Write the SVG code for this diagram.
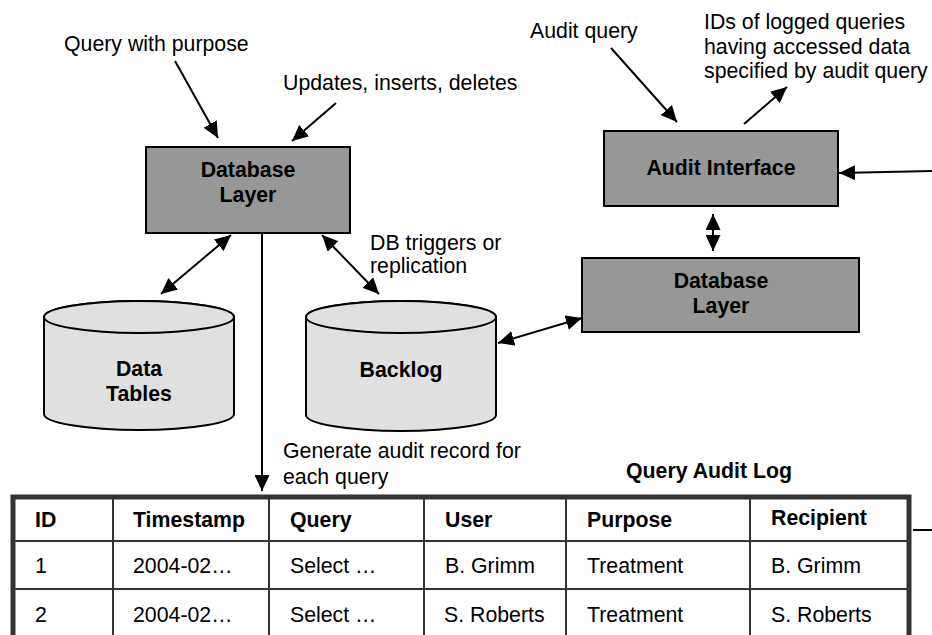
<svg xmlns="http://www.w3.org/2000/svg" width="932" height="635" viewBox="0 0 932 635">
  <style>
    text { font-family: "Liberation Sans", Arial, sans-serif; font-size: 21.3px; fill: #000; }
    .b { font-weight: bold; }
    .c { text-anchor: middle; }
    .box { fill: #979797; stroke: #000; stroke-width: 2; }
    .cyl { fill: #e0e0e0; stroke: #000; stroke-width: 2; }
    .conn { fill: none; stroke: #000; stroke-width: 2; }
    .arr { marker-end: url(#head); }
    .dbl { marker-start: url(#head); marker-end: url(#head); }
    .grid { stroke: #333; stroke-width: 2; fill: none; }
    .frame { stroke: #333; stroke-width: 5; fill: #fff; }
  </style>
  <defs>
    <marker id="head" markerUnits="userSpaceOnUse" markerWidth="16" markerHeight="15" refX="16" refY="7.5" orient="auto-start-reverse">
      <path d="M0,0 L16,7.5 L0,15 Z" fill="#000"/>
    </marker>
  </defs>

  <rect x="0" y="0" width="932" height="635" fill="#fff"/>

  <!-- free-standing labels -->
  <g id="labels">
    <text x="64" y="51">Query with purpose</text>
    <text x="283" y="90">Updates, inserts, deletes</text>
    <text x="530" y="38">Audit query</text>
    <text x="704" y="29">IDs of logged queries</text>
    <text x="704" y="54">having accessed data</text>
    <text x="704" y="78">specified by audit query</text>
    <text x="370" y="250">DB triggers or</text>
    <text x="370" y="273">replication</text>
    <text x="283" y="458">Generate audit record for</text>
    <text x="283" y="484">each query</text>
  </g>

  <!-- connectors -->
  <g id="connectors">
    <path class="conn arr" d="M175,61 L218,138"/>
    <path class="conn arr" d="M336,103 L292,141"/>
    <path class="conn arr" d="M611,48 L677,122"/>
    <path class="conn arr" d="M744,124 L787,87"/>
    <path class="conn arr" d="M932,171 L839,173"/>
    <path class="conn dbl" d="M713,214 L713,251"/>
    <path class="conn dbl" d="M498,343 L582,318"/>
    <path class="conn dbl" d="M161,294 L231,235"/>
    <path class="conn dbl" d="M322,235 L379,294"/>
    <path class="conn arr" d="M262,233 L262,491"/>
    <path class="conn" d="M913,530 L932,530"/>
  </g>

  <!-- database layer (left) -->
  <g id="db-layer-1">
    <rect class="box" x="146" y="147" width="204" height="86"/>
    <text class="b c" x="248" y="177">Database</text>
    <text class="b c" x="248" y="202">Layer</text>
  </g>

  <!-- audit interface -->
  <g id="audit-interface">
    <rect class="box" x="604" y="131" width="234" height="75"/>
    <text class="b c" x="721" y="175">Audit Interface</text>
  </g>

  <!-- database layer (right) -->
  <g id="db-layer-2">
    <rect class="box" x="582" y="258" width="277" height="74"/>
    <text class="b c" x="721" y="288">Database</text>
    <text class="b c" x="721" y="313">Layer</text>
  </g>

  <!-- data tables store -->
  <g id="data-tables">
    <path class="cyl" d="M44,317 A95,16 0 0 1 234,317 L234,414 A95,16 0 0 1 44,414 Z"/>
    <ellipse class="cyl" cx="139" cy="317" rx="95" ry="16"/>
    <text class="b c" x="139" y="376">Data</text>
    <text class="b c" x="139" y="401">Tables</text>
  </g>

  <!-- backlog store -->
  <g id="backlog">
    <path class="cyl" d="M306,317 A95,16 0 0 1 496,317 L496,415 A95,16 0 0 1 306,415 Z"/>
    <ellipse class="cyl" cx="401" cy="317" rx="95" ry="16"/>
    <text class="b c" x="401" y="377">Backlog</text>
  </g>

  <!-- query audit log table -->
  <g id="audit-log">
    <text class="b c" x="709" y="478">Query Audit Log</text>
    <rect class="frame" x="13" y="497" width="896" height="200"/>
    <path class="grid" d="M113,499 V635 M269,499 V635 M424,499 V635 M566,499 V635 M750,499 V635 M15,541 H907 M15,589 H907"/>
    <text class="b" x="35" y="527">ID</text>
    <text class="b" x="133" y="527">Timestamp</text>
    <text class="b" x="290" y="527">Query</text>
    <text class="b" x="445" y="527">User</text>
    <text class="b" x="587" y="527">Purpose</text>
    <text class="b" x="771" y="525">Recipient</text>
    <text x="35" y="573">1</text>
    <text x="133" y="573">2004-02…</text>
    <text x="290" y="573">Select …</text>
    <text x="445" y="573">B. Grimm</text>
    <text x="587" y="573">Treatment</text>
    <text x="771" y="573">B. Grimm</text>
    <text x="35" y="622">2</text>
    <text x="133" y="622">2004-02…</text>
    <text x="290" y="622">Select …</text>
    <text x="444" y="622">S. Roberts</text>
    <text x="587" y="622">Treatment</text>
    <text x="771" y="622">S. Roberts</text>
  </g>
</svg>
